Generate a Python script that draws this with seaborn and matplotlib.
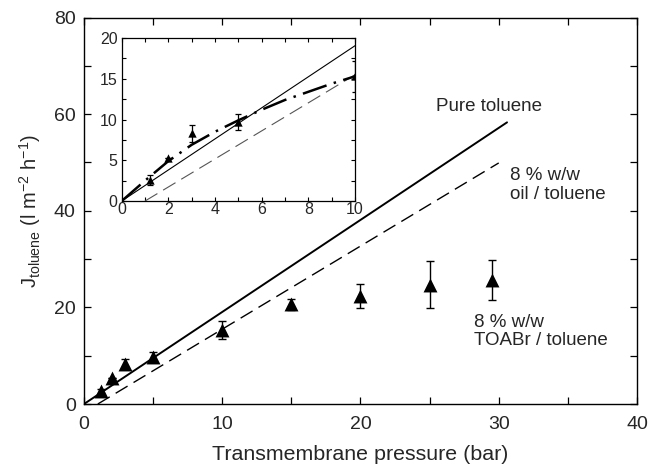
import matplotlib
matplotlib.use("Agg")
import matplotlib.pyplot as plt
import seaborn as sns
from matplotlib.ticker import MultipleLocator

# ---- data ----
pressure = [1.2, 2, 3, 5, 10, 15, 20, 25, 29.5]
flux_toabr = [2.6, 5.3, 8.3, 9.7, 15.3, 20.6, 22.3, 24.7, 25.6]
flux_err = [0.6, 0.0, 1.0, 1.0, 1.9, 1.1, 2.5, 4.9, 4.15]

pure_x = [0, 30.6]
pure_y = [0, 58.3]
oil_x = [1.0, 30.0]
oil_y = [0, 49.9]

fit_x = [0, 1, 2, 3, 4, 5, 6, 7, 8, 9, 10]
fit_y = [0, 2.5, 4.9, 6.9, 8.5, 9.9, 11.2, 12.4, 13.4, 14.4, 15.3]

main_xticks = [0, 10, 20, 30, 40]
main_yticks = [0, 20, 40, 60, 80]
inset_xticks = [0, 2, 4, 6, 8, 10]
inset_yticks = [0, 5, 10, 15, 20]

sns.set_theme(style="ticks")
plt.rcParams["font.family"] = ["Liberation Sans", "DejaVu Sans"]
plt.rcParams["mathtext.default"] = "regular"
plt.rcParams["xtick.direction"] = "in"
plt.rcParams["ytick.direction"] = "in"

fig = plt.figure(figsize=(6.48, 4.70), dpi=100)
ax = fig.add_axes([0.1296, 0.1404, 0.8534, 0.8223])

# main plot
sns.lineplot(x=pure_x, y=pure_y, ax=ax, color="black", linewidth=1.4)
sns.lineplot(x=oil_x, y=oil_y, ax=ax, color="black", linewidth=1.0,
             linestyle=(0, (10, 5)))
ax.errorbar(pressure, flux_toabr, yerr=flux_err, fmt="none", ecolor="black",
            elinewidth=1.0, capsize=3, capthick=1.0, zorder=3)
sns.scatterplot(x=pressure, y=flux_toabr, ax=ax, marker="^", s=100,
                color="black", edgecolor="black", linewidth=0, zorder=4)

ax.set_xlim(0, 40)
ax.set_ylim(0, 80)
ax.set_xticks(main_xticks)
ax.set_yticks(main_yticks)
ax.xaxis.set_minor_locator(MultipleLocator(5))
ax.yaxis.set_minor_locator(MultipleLocator(10))
ax.tick_params(which="both", direction="in", top=True, right=True,
               length=5, width=0.9, color="black")
ax.tick_params(axis="x", which="major", labelsize=14, pad=8.5)
ax.tick_params(axis="y", which="major", labelsize=14, pad=6)
for s in ax.spines.values():
    s.set_linewidth(1.0)
    s.set_color("black")

ax.set_xlabel("Transmembrane pressure (bar)", fontsize=15.4, labelpad=9)
ax.set_ylabel(r"J$_{toluene}$ (l m$^{-2}$ h$^{-1}$)", fontsize=14.5, labelpad=8)

ax.text(29.3, 61.6, "Pure toluene", fontsize=13.5, ha="center", va="center")
ax.text(30.8, 49.0, "8 % w/w\noil / toluene", fontsize=13.5, ha="left",
        va="top", linespacing=1.1)
ax.text(28.2, 18.6, "8 % w/w\nTOABr / toluene", fontsize=13.5, ha="left",
        va="top", linespacing=1.1)

# inset
ins = fig.add_axes([0.1878, 0.5723, 0.3600, 0.3468])
ins.set_facecolor("white")
sns.lineplot(x=pure_x, y=pure_y, ax=ins, color="black", linewidth=0.8)
sns.lineplot(x=oil_x, y=oil_y, ax=ins, color="#555555", linewidth=0.8,
             linestyle=(0, (13, 6)))
sns.lineplot(x=fit_x, y=fit_y, ax=ins, color="black", linewidth=1.8,
             linestyle=(0, (10, 3, 1, 3)))
ins.errorbar(pressure, flux_toabr, yerr=flux_err, fmt="none", ecolor="black",
             elinewidth=0.9, capsize=2.3, capthick=0.9, zorder=3)
sns.scatterplot(x=pressure, y=flux_toabr, ax=ins, marker="^", s=36,
                color="black", edgecolor="black", linewidth=0, zorder=4)
ins.set_xlim(0, 10)
ins.set_ylim(0, 20)
ins.set_xticks(inset_xticks)
ins.set_yticks(inset_yticks)
ins.xaxis.set_minor_locator(MultipleLocator(1))
ins.yaxis.set_minor_locator(MultipleLocator(2.5))
ins.tick_params(which="both", direction="in", top=True, right=True,
                length=3, width=0.8, color="black")
ins.tick_params(axis="x", which="major", labelsize=11.5, pad=1)
ins.tick_params(axis="y", which="major", labelsize=11.5, pad=3)
for s in ins.spines.values():
    s.set_linewidth(0.9)
    s.set_color("black")
ins.set_xlabel("")
ins.set_ylabel("")

fig.savefig("out.png", dpi=100)
